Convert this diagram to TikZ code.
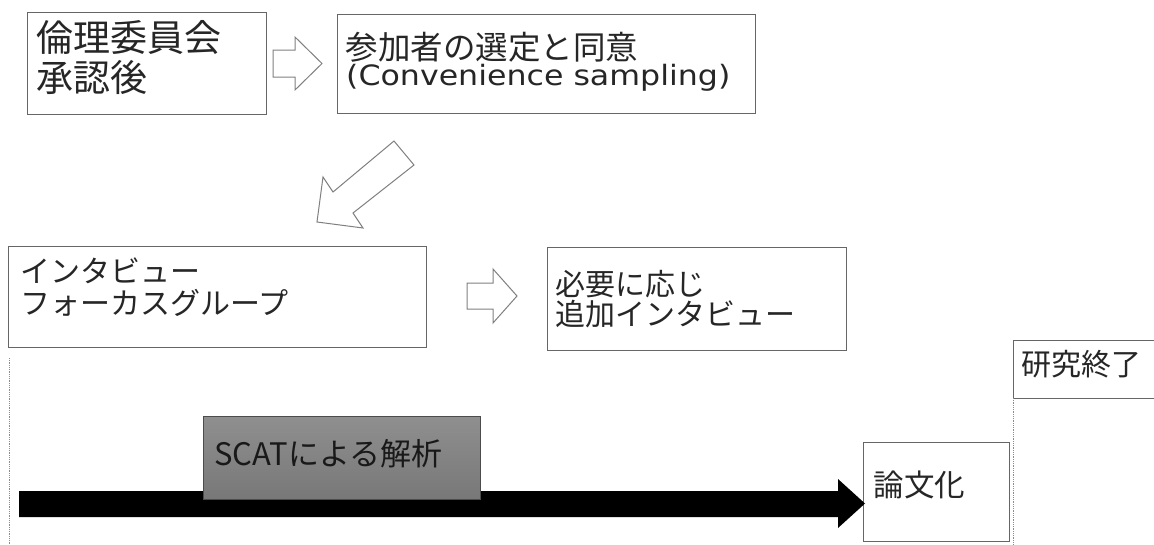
\documentclass[tikz,border=0pt]{standalone}
\usepackage{fontspec}
\setmainfont{Noto Sans CJK JP}
\newfontfamily\latinf[FakeStretch=1.13]{DejaVu Sans}
\begin{document}
\begin{tikzpicture}[x=1pt,y={(0pt,-1pt)},
  box/.style={draw=black!60, line width=1.2pt, fill=none, inner sep=0pt, anchor=north west},
  txt/.style={inner sep=0pt, anchor=base west, text=black!85},
  hollow/.style={draw=black!50, line width=1pt, line join=miter, fill=white},
  guide/.style={draw=black!45, line width=0.8pt, densely dotted}]
\clip (0,0) rectangle (1154,544);
\fill[white] (0,0) rectangle (1154,544);

% top row
\node[box, minimum width=239pt, minimum height=102pt] (b1) at (27,12) {};
\node[txt, font=\fontsize{37}{40}\selectfont] (b1a) at (36,51.5) {倫理委員会};
\node[txt, font=\fontsize{37}{40}\selectfont] (b1b) at (36,91.5) {承認後};

\node[box, minimum width=418pt, minimum height=99pt] (b2) at (337,13.5) {};
\node[txt, font=\fontsize{32.5}{34}\selectfont] (b2a) at (345.5,59) {参加者の選定と同意};
\node[txt, font=\latinf\fontsize{28}{30}\selectfont] (b2b) at (346,85) {(Convenience sampling)};

\draw[hollow] (273,50) -- (295,50) -- (295,37) -- (322,63.5) -- (295,90) -- (295,77) -- (273,77) -- cycle;

% diagonal arrow
\draw[hollow] (394,141) -- (414,165) -- (353,213) -- (363,228) -- (317,222) -- (323,177) -- (333,192) -- cycle;

% middle row
\node[box, minimum width=418pt, minimum height=101pt] (b3) at (8,246) {};
\node[txt, font=\fontsize{30}{32}\selectfont] (b3a) at (20.5,282) {インタビュー};
\node[txt, font=\fontsize{30}{32}\selectfont] (b3b) at (20.5,314) {フォーカスグループ};

\node[box, minimum width=299pt, minimum height=103pt] (b4) at (547,247) {};
\node[txt, font=\fontsize{30}{32}\selectfont] (b4a) at (555.5,295.5) {必要に応じ};
\node[txt, font=\fontsize{30}{32}\selectfont] (b4b) at (555.5,325.5) {追加インタビュー};

\draw[hollow] (467,283) -- (493,283) -- (493,269) -- (517,296) -- (493,323) -- (493,309) -- (467,309) -- cycle;

% guides
\coordinate (g1a) at (9,358);
\coordinate (g1b) at (9,544);
\draw[guide] (g1a) -- (g1b);

% end box
\node[box, minimum width=200pt, minimum height=58pt] (b6) at (1012.5,340) {};
\node[txt, font=\fontsize{30}{32}\selectfont] (b6a) at (1021.5,375) {研究終了};
\coordinate (g2a) at (1013,398);
\coordinate (g2b) at (1013,544);
\draw[guide] (g2a) -- (g2b);

% paper box
\node[box, minimum width=146pt, minimum height=99pt] (b5) at (863,442) {};
\node[txt, font=\fontsize{30.5}{32}\selectfont] (b5a) at (873.5,496.5) {論文化};

% black timeline arrow
\coordinate (tip) at (865,503.5);
\fill[black] (19,491) -- (838,491) -- (838,479) -- (tip) -- (838,528) -- (838,517) -- (19,517) -- cycle;

% SCAT box
\node[box, draw=black!70, line width=1pt, minimum width=277pt, minimum height=83pt,
      top color=black!44, bottom color=black!53] (b7) at (203,416) {};
\node[txt, font=\fontsize{31}{33}\selectfont, text=black!90] (b7a) at (214,465) {SCATによる解析};
\end{tikzpicture}
\end{document}
